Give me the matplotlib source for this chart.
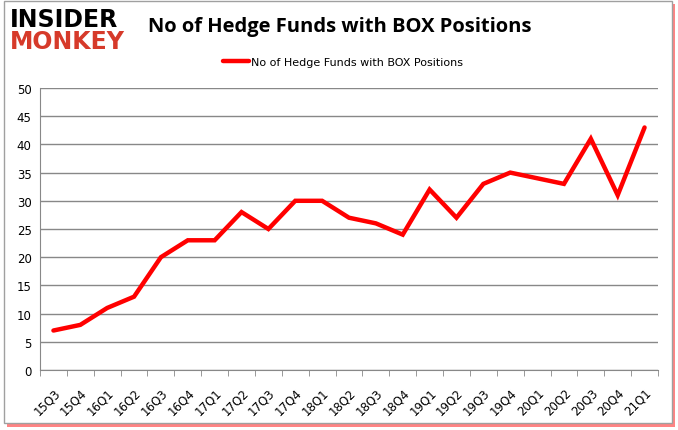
import numpy as np
import matplotlib.pyplot as plt
from matplotlib.patches import Rectangle

quarters = ["15Q3", "15Q4", "16Q1", "16Q2", "16Q3", "16Q4", "17Q1", "17Q2",
            "17Q3", "17Q4", "18Q1", "18Q2", "18Q3", "18Q4", "19Q1", "19Q2",
            "19Q3", "19Q4", "20Q1", "20Q2", "20Q3", "20Q4", "21Q1"]
funds = [7, 8, 11, 13, 20, 23, 23, 28, 25, 30, 30, 27, 26, 24, 32, 27,
         33, 35, 34, 33, 41, 31, 43]
y_ticks = [0, 5, 10, 15, 20, 25, 30, 35, 40, 45, 50]
series_name = "No of Hedge Funds with BOX Positions"

W, H = 678, 431
fig = plt.figure(figsize=(W / 100, H / 100), dpi=100)

# frame with red shadow
fig.patches.append(Rectangle((7 / W, 3 / H), 668 / W, 423 / H, transform=fig.transFigure,
                             facecolor="#ff2020", edgecolor="none", alpha=0.55, zorder=0))
fig.patches.append(Rectangle((4 / W, 7 / H), 668 / W, 422 / H, transform=fig.transFigure,
                             facecolor="white", edgecolor="#a0a0a0", linewidth=1, zorder=1))

ax = fig.add_axes([40 / W, (H - 371) / H, 618 / W, 282 / H])
ax.set_zorder(2)
x = np.arange(len(quarters))
ax.plot(x, funds, color="#ff0000", linewidth=3.2, solid_joinstyle="miter",
        solid_capstyle="round", label=series_name)

ax.set_xlim(-0.5, len(quarters) - 0.5)
ax.set_ylim(0, 50)
ax.set_yticks(y_ticks)
ax.set_yticklabels([str(v) for v in y_ticks], fontsize=8.5, family="DejaVu Sans")
ax.yaxis.grid(True, color="#888888", linewidth=1)
ax.set_axisbelow(True)
ax.tick_params(axis="y", length=0, pad=6)

ax.set_xticks(x)
ax.set_xticklabels(quarters, rotation=45, ha="right", va="top", fontsize=8.5,
                   rotation_mode="anchor")
ax.set_xticks(np.arange(len(quarters) + 1) - 0.5, minor=True)
ax.tick_params(axis="x", which="major", length=0, pad=11)
ax.tick_params(axis="x", which="minor", length=4, color="#888888", direction="out")

for s in ["top", "right"]:
    ax.spines[s].set_visible(False)
for s in ["left", "bottom"]:
    ax.spines[s].set_color("#888888")

# title
fig.text(340 / W, 1 - 27 / H, "No of Hedge Funds with BOX Positions", ha="center",
         va="center", fontsize=14.5, fontweight="bold", family="Open Sans", color="black")

# legend
ax.legend(loc="center", bbox_to_anchor=(0.5 - 6 / 618, 1 + 26 / 282),
          frameon=False, fontsize=8, handlelength=2.4, handletextpad=0.2)

# logo
fig.text(10 / W, 1 - 20 / H, "INSIDER", ha="left", va="center", fontsize=17,
         fontweight="black", family="DejaVu Sans", color="black")
fig.text(10 / W, 1 - 42 / H, "MONKEY", ha="left", va="center", fontsize=17,
         fontweight="black", family="DejaVu Sans", color="#d63a2a")

fig.savefig("out.png", dpi=100)
